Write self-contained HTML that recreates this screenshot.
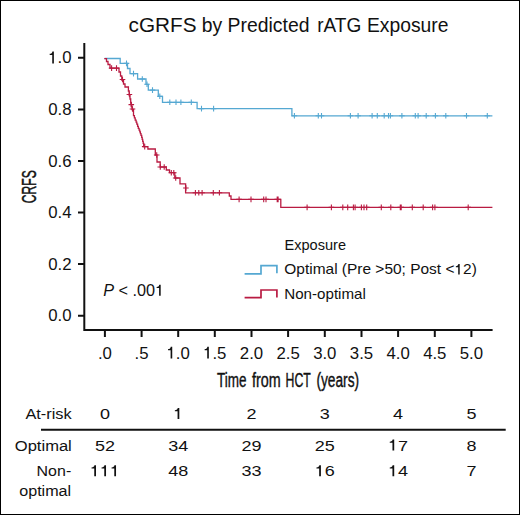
<!DOCTYPE html>
<html><head><meta charset="utf-8"><style>
html,body{margin:0;padding:0;background:#fff;}
body{width:520px;height:515px;overflow:hidden;}
svg{display:block;font-family:"Liberation Sans",sans-serif;}
</style></head><body>
<svg width="520" height="515" viewBox="0 0 520 515">
<rect x="0.5" y="0.5" width="519" height="514" fill="#fff" stroke="#000" stroke-width="1"/>
<g font-size="20" fill="#111"><text x="128.6" y="31.7" textLength="67.9" lengthAdjust="spacingAndGlyphs">cGRFS</text><text x="201.7" y="31.7" textLength="20.4" lengthAdjust="spacingAndGlyphs">by</text><text x="227.6" y="31.7" textLength="81.9" lengthAdjust="spacingAndGlyphs">Predicted</text><text x="317.2" y="31.7" textLength="44.1" lengthAdjust="spacingAndGlyphs">rATG</text><text x="367.0" y="31.7" textLength="81.5" lengthAdjust="spacingAndGlyphs">Exposure</text></g>
<g stroke="#111" stroke-width="2" fill="none">
<path d="M84.3,43 V330.9 M83.3,329.9 H492.6"/>
<path d="M78,315.7H84.3 M78,264.1H84.3 M78,212.5H84.3 M78,161.0H84.3 M78,109.4H84.3 M78,57.8H84.3 M104.9,330H104.9V337 M141.6,330H141.6V337 M178.2,330H178.2V337 M214.8,330H214.8V337 M251.5,330H251.5V337 M288.1,330H288.1V337 M324.8,330H324.8V337 M361.5,330H361.5V337 M398.1,330H398.1V337 M434.8,330H434.8V337 M471.4,330H471.4V337 "/>
</g>
<g font-size="16.8" fill="#111"><text x="71.5" y="321.3" text-anchor="end">0.0</text><text x="71.5" y="269.7" text-anchor="end">0.2</text><text x="71.5" y="218.1" text-anchor="end">0.4</text><text x="71.5" y="166.6" text-anchor="end">0.6</text><text x="71.5" y="115.0" text-anchor="end">0.8</text><text x="71.5" y="63.4" text-anchor="end"> .0</text><text x="104.9" y="358.6" text-anchor="middle">.0</text><text x="141.6" y="358.6" text-anchor="middle">.5</text><text x="178.2" y="358.6" text-anchor="middle"> .0</text><text x="214.8" y="358.6" text-anchor="middle"> .5</text><text x="251.5" y="358.6" text-anchor="middle">2.0</text><text x="288.1" y="358.6" text-anchor="middle">2.5</text><text x="324.8" y="358.6" text-anchor="middle">3.0</text><text x="361.5" y="358.6" text-anchor="middle">3.5</text><text x="398.1" y="358.6" text-anchor="middle">4.0</text><text x="434.8" y="358.6" text-anchor="middle">4.5</text><text x="471.4" y="358.6" text-anchor="middle">5.0</text></g>
<text transform="translate(36,170) rotate(-90)" x="-33.2" y="0" font-size="20" fill="#111" stroke="#111" stroke-width="0.45" textLength="33" lengthAdjust="spacingAndGlyphs">CRFS</text>
<g font-size="20" fill="#111" stroke="#111" stroke-width="0.4"><text x="216.9" y="386.7" textLength="29.5" lengthAdjust="spacingAndGlyphs">Time</text><text x="252.0" y="386.7" textLength="28.7" lengthAdjust="spacingAndGlyphs">from</text><text x="285.6" y="386.7" textLength="25.2" lengthAdjust="spacingAndGlyphs">HCT</text><text x="316.4" y="386.7" textLength="42.7" lengthAdjust="spacingAndGlyphs">(years)</text></g>
<g fill="none" stroke-width="1.3">
<path d="M104.6,58.5 H120.2 V63.4 H127.5 V68.5 H130 V73.6 H137.6 V79 H146 V84.3 H148.3 V90.1 H158.3 V96.3 H162.5 V102.3 H197.1 V108.6 H291.9 V115.8 H492.4" stroke="#55a8d2"/>
<path d="M123.7,63.4h5.6M126.5,60.6v5.6 M130.7,73.6h5.6M133.5,70.8v5.6 M139.5,79.0h5.6M142.3,76.2v5.6 M144.2,84.3h5.6M147.0,81.5v5.6 M149.7,90.1h5.6M152.5,87.3v5.6 M157.0,96.3h5.6M159.8,93.5v5.6 M167.0,102.3h5.6M169.8,99.5v5.6 M173.2,102.3h5.6M176.0,99.5v5.6 M178.1,102.3h5.6M180.9,99.5v5.6 M188.5,102.3h5.6M191.3,99.5v5.6 M198.7,108.6h5.6M201.5,105.8v5.6 M210.8,108.6h5.6M213.6,105.8v5.6 M291.6,115.8h5.6M294.4,113.0v5.6 M315.5,115.8h5.6M318.3,113.0v5.6 M318.7,115.8h5.6M321.5,113.0v5.6 M347.6,115.8h5.6M350.4,113.0v5.6 M355.3,115.8h5.6M358.1,113.0v5.6 M369.3,115.8h5.6M372.1,113.0v5.6 M374.5,115.8h5.6M377.3,113.0v5.6 M381.4,115.8h5.6M384.2,113.0v5.6 M385.7,115.8h5.6M388.5,113.0v5.6 M387.6,115.8h5.6M390.4,113.0v5.6 M399.1,115.8h5.6M401.9,113.0v5.6 M412.5,115.8h5.6M415.3,113.0v5.6 M415.3,115.8h5.6M418.1,113.0v5.6 M423.4,115.8h5.6M426.2,113.0v5.6 M432.6,115.8h5.6M435.4,113.0v5.6 M443.0,115.8h5.6M445.8,113.0v5.6 M463.7,115.8h5.6M466.5,113.0v5.6 M484.5,115.8h5.6M487.3,113.0v5.6" stroke="#55a8d2" stroke-width="1.1"/>
<path d="M104.3,58.6 H106.5 V61.5 H108 V64.5 H110 V68.1 H119 V72 H120.5 V76 H121.8 V80 H123.5 V84 H125 V87 H128.4 V91 H129.2 V95 H130 V99 H130.7 V103 H131.3 V106 H132 V109.5 H133.5 V113.4 V115.7 H134.4 V117.9 H135.2 V120.2 H136.1 V122.2 H136.8 V124.2 H137.6 V126.3 H138.3 V128.3 H139.1 V130.1 H139.8 V131.9 H140.4 V133.6 H141.0 V135.4 H141.7 V137.4 H142.2 V139.4 H142.7 V141.4 H143.2 V143.4 H143.7 V146.6 H147.9 V149 H155.3 V155 H157 V162 H160.2 V167 H166.3 V170 H169.5 V172.7 H174.8 V178 H180 V183.8 H185.6 V192.8 H229.3 V196 H231 V199.4 H280.8 V207.4 H492.4" stroke="#b91b42"/>
<path d="M108.8,68.1h5.6M111.6,65.3v5.6 M113.7,68.1h5.6M116.5,65.3v5.6 M119.7,79.5h5.6M122.5,76.7v5.6 M126.6,94.5h5.6M129.4,91.7v5.6 M128.5,104.6h5.6M131.3,101.8v5.6 M129.7,109.0h5.6M132.5,106.2v5.6 M141.9,146.6h5.6M144.7,143.8v5.6 M153.9,155.0h5.6M156.7,152.2v5.6 M157.5,167.0h5.6M160.3,164.2v5.6 M161.4,167.0h5.6M164.2,164.2v5.6 M168.5,172.7h5.6M171.3,169.9v5.6 M171.0,172.7h5.6M173.8,169.9v5.6 M172.9,178.0h5.6M175.7,175.2v5.6 M183.1,188.0h5.6M185.9,185.2v5.6 M192.6,192.8h5.6M195.4,190.0v5.6 M196.0,192.8h5.6M198.8,190.0v5.6 M199.3,192.8h5.6M202.1,190.0v5.6 M210.5,192.8h5.6M213.3,190.0v5.6 M216.6,192.8h5.6M219.4,190.0v5.6 M236.3,199.4h5.6M239.1,196.6v5.6 M248.2,199.4h5.6M251.0,196.6v5.6 M260.9,199.4h5.6M263.7,196.6v5.6 M263.2,199.4h5.6M266.0,196.6v5.6 M274.4,199.4h5.6M277.2,196.6v5.6 M275.3,199.4h5.6M278.1,196.6v5.6 M304.3,207.4h5.6M307.1,204.6v5.6 M328.6,207.4h5.6M331.4,204.6v5.6 M340.0,207.4h5.6M342.8,204.6v5.6 M344.9,207.4h5.6M347.7,204.6v5.6 M350.6,207.4h5.6M353.4,204.6v5.6 M352.3,207.4h5.6M355.1,204.6v5.6 M358.6,207.4h5.6M361.4,204.6v5.6 M361.2,207.4h5.6M364.0,204.6v5.6 M363.9,207.4h5.6M366.7,204.6v5.6 M378.5,207.4h5.6M381.3,204.6v5.6 M388.0,207.4h5.6M390.8,204.6v5.6 M397.5,207.4h5.6M400.3,204.6v5.6 M398.4,207.4h5.6M401.2,204.6v5.6 M409.5,207.4h5.6M412.3,204.6v5.6 M420.4,207.4h5.6M423.2,204.6v5.6 M429.8,207.4h5.6M432.6,204.6v5.6 M432.1,207.4h5.6M434.9,204.6v5.6 M465.4,207.4h5.6M468.2,204.6v5.6" stroke="#b91b42" stroke-width="1.1"/>
<path d="M244.6,273.8 H261 V265.6 H276.9 V273.2" stroke="#55a8d2" stroke-width="1.7"/>
<path d="M244.6,297.7 H261 V290 H276.9 V297.5" stroke="#b91b42" stroke-width="1.7"/>
</g>
<g font-size="14.5" fill="#111">
<text x="284.5" y="250.1" textLength="61.5" lengthAdjust="spacingAndGlyphs">Exposure</text>
<text x="284.3" y="274.4" textLength="192.5" lengthAdjust="spacingAndGlyphs">Optimal (Pre &gt;50; Post &lt; 2)</text>
<text x="284.3" y="299.3" textLength="81.5" lengthAdjust="spacingAndGlyphs">Non-optimal</text>
</g>
<text x="103.2" y="295.8" font-size="15.7" fill="#111" textLength="61" lengthAdjust="spacingAndGlyphs"><tspan font-style="italic">P</tspan> &lt; .00 </text>
<g font-size="15.4" fill="#111">
<text x="25.4" y="418.9" textLength="46.3" lengthAdjust="spacingAndGlyphs">At-risk</text>
<text x="14.8" y="450.5" textLength="57" lengthAdjust="spacingAndGlyphs">Optimal</text>
<text x="36.6" y="476.3" textLength="34.6" lengthAdjust="spacingAndGlyphs">Non-</text>
<text x="19.2" y="496" textLength="52" lengthAdjust="spacingAndGlyphs">optimal</text>
<text transform="translate(104.9,418.9) scale(1.17,1)" text-anchor="middle">0</text><text transform="translate(104.9,450.5) scale(1.17,1)" text-anchor="middle">52</text><text transform="translate(104.9,476.2) scale(1.17,1)" text-anchor="middle">   </text><text transform="translate(178.2,418.9) scale(1.17,1)" text-anchor="middle"> </text><text transform="translate(178.2,450.5) scale(1.17,1)" text-anchor="middle">34</text><text transform="translate(178.2,476.2) scale(1.17,1)" text-anchor="middle">48</text><text transform="translate(251.5,418.9) scale(1.17,1)" text-anchor="middle">2</text><text transform="translate(251.5,450.5) scale(1.17,1)" text-anchor="middle">29</text><text transform="translate(251.5,476.2) scale(1.17,1)" text-anchor="middle">33</text><text transform="translate(324.8,418.9) scale(1.17,1)" text-anchor="middle">3</text><text transform="translate(324.8,450.5) scale(1.17,1)" text-anchor="middle">25</text><text transform="translate(324.8,476.2) scale(1.17,1)" text-anchor="middle"> 6</text><text transform="translate(398.1,418.9) scale(1.17,1)" text-anchor="middle">4</text><text transform="translate(398.1,450.5) scale(1.17,1)" text-anchor="middle"> 7</text><text transform="translate(398.1,476.2) scale(1.17,1)" text-anchor="middle"> 4</text><text transform="translate(471.4,418.9) scale(1.17,1)" text-anchor="middle">5</text><text transform="translate(471.4,450.5) scale(1.17,1)" text-anchor="middle">8</text><text transform="translate(471.4,476.2) scale(1.17,1)" text-anchor="middle">7</text>
</g>
<path d="M41,429.8 H505.7" stroke="#111" stroke-width="2"/>
<g fill="#111"><path transform="matrix(0.01680,0.00000,-0.00000,-0.01680,48.16,63.40)" d="M340,0 H243 V500 H92 V568 C197,576 237,610 252,709 H340 Z"/><path transform="matrix(0.01680,0.00000,-0.00000,-0.01680,166.53,358.60)" d="M340,0 H243 V500 H92 V568 C197,576 237,610 252,709 H340 Z"/><path transform="matrix(0.01680,0.00000,-0.00000,-0.01680,203.13,358.60)" d="M340,0 H243 V500 H92 V568 C197,576 237,610 252,709 H340 Z"/><path transform="matrix(0.01549,0.00000,-0.00000,-0.01450,454.44,274.40)" d="M340,0 H243 V500 H92 V568 C197,576 237,610 252,709 H340 Z"/><path transform="matrix(0.01630,0.00000,-0.00000,-0.01570,155.14,295.80)" d="M340,0 H243 V500 H92 V568 C197,576 237,610 252,709 H340 Z"/><path transform="matrix(0.01803,0.00000,-0.00000,-0.01540,89.87,476.20)" d="M340,0 H243 V500 H92 V568 C197,576 237,610 252,709 H340 Z"/><path transform="matrix(0.01803,0.00000,-0.00000,-0.01540,99.89,476.20)" d="M340,0 H243 V500 H92 V568 C197,576 237,610 252,709 H340 Z"/><path transform="matrix(0.01803,0.00000,-0.00000,-0.01540,109.90,476.20)" d="M340,0 H243 V500 H92 V568 C197,576 237,610 252,709 H340 Z"/><path transform="matrix(0.01803,0.00000,-0.00000,-0.01540,173.19,418.90)" d="M340,0 H243 V500 H92 V568 C197,576 237,610 252,709 H340 Z"/><path transform="matrix(0.01803,0.00000,-0.00000,-0.01540,314.78,476.20)" d="M340,0 H243 V500 H92 V568 C197,576 237,610 252,709 H340 Z"/><path transform="matrix(0.01803,0.00000,-0.00000,-0.01540,388.08,450.50)" d="M340,0 H243 V500 H92 V568 C197,576 237,610 252,709 H340 Z"/><path transform="matrix(0.01803,0.00000,-0.00000,-0.01540,388.08,476.20)" d="M340,0 H243 V500 H92 V568 C197,576 237,610 252,709 H340 Z"/></g>
</svg>
</body></html>
